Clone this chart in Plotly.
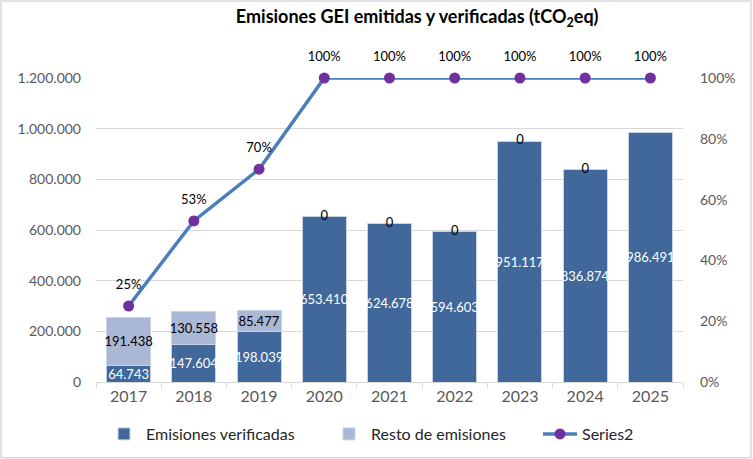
import plotly.graph_objects as go

years = ["2017", "2018", "2019", "2020", "2021", "2022", "2023", "2024", "2025"]
verificadas = [64743, 147604, 198039, 653410, 624678, 594603, 951117, 836874, 986491]
resto = [191438, 130558, 85477, 0, 0, 0, 0, 0, None]
series2 = [0.25, 0.53, 0.70, 1.0, 1.0, 1.0, 1.0, 1.0, 1.0]

FONT = "Lato"
DARK = "#41689A"
LIGHT = "#AAB8D6"
GRAY = "#595959"

fig = go.Figure()

fig.add_trace(go.Bar(
    x=years, y=verificadas, name="Emisiones verificadas", legend="legend",
    marker=dict(color=DARK, line=dict(color="#C9D3E6", width=1)),
    texttemplate="%{y:,.0f}", textposition="inside", insidetextanchor="middle",
    constraintext="none", textangle=0,
    insidetextfont=dict(color="white", size=13, family=FONT),
))

resto_pos = ["inside" if (v is not None and v > 0) else "none" for v in resto]
fig.add_trace(go.Bar(
    x=years, y=resto, name="Resto de emisiones", legend="legend2",
    marker=dict(color=LIGHT, line=dict(color="#C9D3E6", width=1)),
    texttemplate="%{y:,.0f}", textposition=resto_pos, insidetextanchor="middle",
    constraintext="none", textangle=0,
    insidetextfont=dict(color="black", size=13, family=FONT),
))

# "0" labels for zero-height remaining emissions, centred on the top of the stack
zx, zy, zt = [], [], []
for yr, v, r in zip(years, verificadas, resto):
    if r == 0:
        zx.append(yr)
        zy.append(v + r)
        zt.append(f"{r}")
fig.add_trace(go.Scatter(
    x=zx, y=zy, mode="text", text=zt, textposition="middle center",
    textfont=dict(color="black", size=13, family=FONT),
    showlegend=False, hoverinfo="skip", cliponaxis=False,
))

fig.add_trace(go.Scatter(
    x=years, y=series2, name="Series2", yaxis="y2", legend="legend3",
    mode="lines+markers",
    line=dict(color="#4A7EBB", width=3.5),
    marker=dict(color="#7030A0", size=11),
    cliponaxis=False,
))

# percentage labels above the line points
fig.add_trace(go.Scatter(
    x=years, y=series2, yaxis="y2", mode="markers+text",
    marker=dict(size=21, opacity=0),
    text=[f"{round(v*100)}%" for v in series2], textposition="top center",
    textfont=dict(color="black", size=13, family=FONT),
    showlegend=False, hoverinfo="skip", cliponaxis=False,
))

W, H = 753, 459
LEG_Y = 434


def leg(px):
    return dict(
        orientation="h", xref="container", x=px / W, xanchor="left",
        yref="container", y=(H - LEG_Y) / H, yanchor="middle",
        font=dict(size=16, color="#262626"), itemwidth=34,
        bgcolor="rgba(0,0,0,0)",
    )


fig.update_layout(
    width=W, height=H,
    barmode="stack", bargap=0.325,
    separators=",.",
    paper_bgcolor="white", plot_bgcolor="white",
    font=dict(family=FONT, color=GRAY),
    margin=dict(l=96, r=70, t=78, b=77),
    title=dict(
        text="<b>Emisiones GEI emitidas y verificadas (tCO<sub>2</sub>eq)</b>",
        x=0.554, xref="container", xanchor="center",
        y=0.963, yref="container", yanchor="middle",
        font=dict(size=18, color="black", family=FONT),
    ),
    xaxis=dict(
        type="category", range=[-0.5, len(years) - 0.5],
        showgrid=False, showline=True, linecolor="#D9D9D9",
        ticks="outside", tickson="boundaries", ticklen=5, tickcolor="#D9D9D9",
        tickfont=dict(size=16, color=GRAY), fixedrange=True,
    ),
    yaxis=dict(
        range=[0, 1200000], dtick=200000, tickformat=",d",
        showgrid=True, gridcolor="#D9D9D9", gridwidth=1.3,
        zeroline=False, showline=False, ticks="", ticklabelstandoff=14,
        tickfont=dict(size=14, color=GRAY),
    ),
    yaxis2=dict(
        overlaying="y", side="right", range=[0, 1], dtick=0.2, tickformat=".0%",
        showgrid=False, zeroline=False, showline=False, ticks="",
        ticklabelstandoff=16,
        tickfont=dict(size=14, color=GRAY),
    ),
    legend=leg(102),
    legend2=leg(327),
    legend3=leg(538),
    showlegend=True,
    shapes=[dict(
        type="rect", xref="paper", yref="paper",
        x0=-0.1618, x1=1.1158, y0=-0.2488, y1=1.2537,
        line=dict(color="#D9D9D9", width=1.5), fillcolor="rgba(0,0,0,0)",
        layer="below",
    )],
)

fig.write_html(
    "out.html",
    config={"displayModeBar": False},
    post_script="document.body.style.margin='0';document.body.style.padding='0';",
)
